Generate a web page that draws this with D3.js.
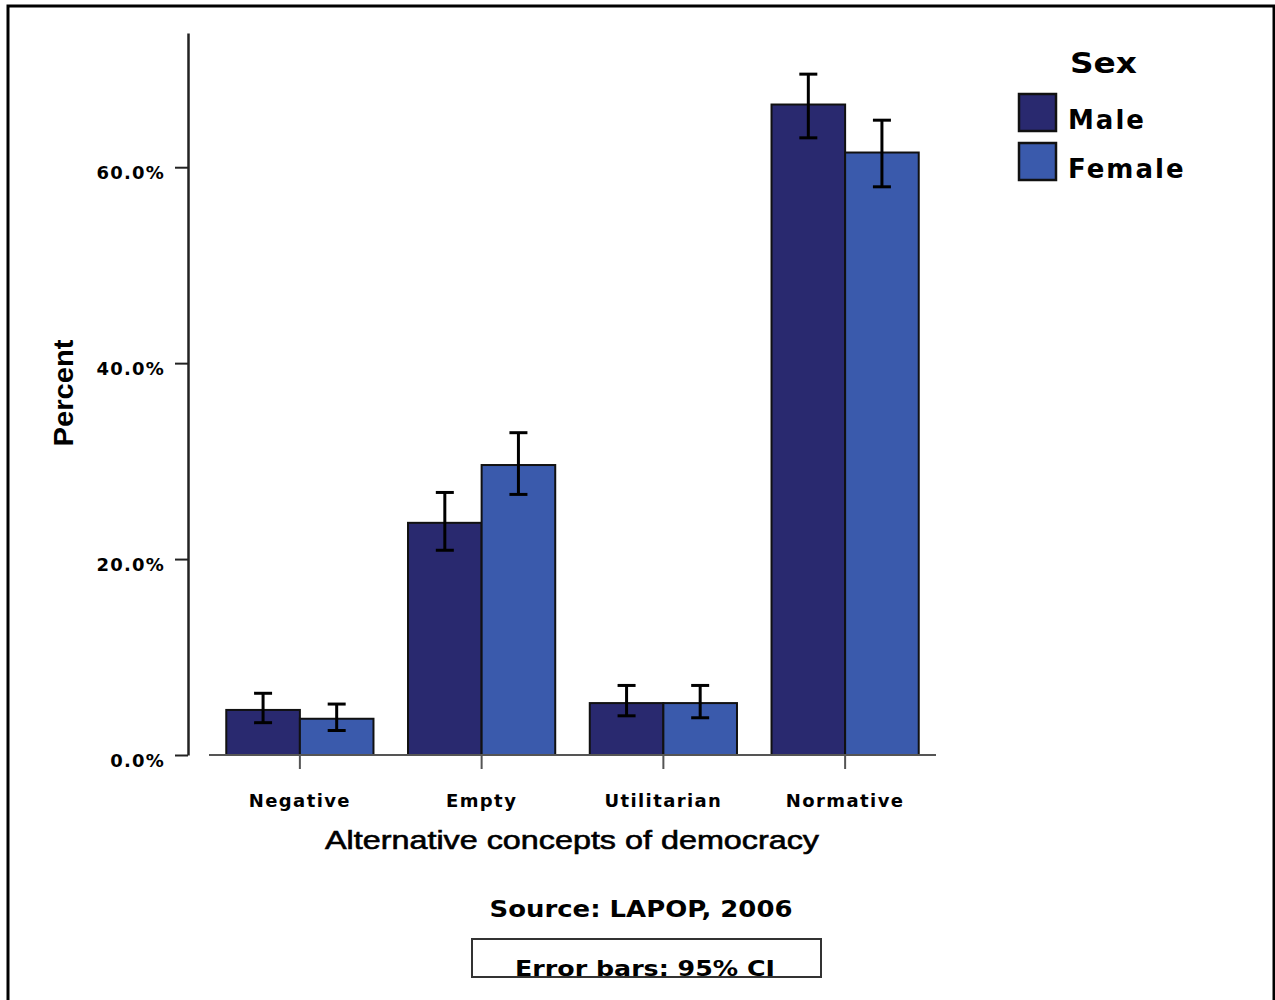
<!DOCTYPE html>
<html>
<head>
<meta charset="utf-8">
<script src="https://cdn.jsdelivr.net/npm/d3@7"></script>
<style>
  html, body { margin: 0; padding: 0; background: #fff; }
  svg { display: block; }
</style>
</head>
<body>
<svg id="chart" width="1275" height="1000"></svg>
<script>
// Alternative concepts of democracy by sex (LAPOP 2006), percent with 95% CI
const categories = ["Negative", "Empty", "Utilitarian", "Normative"];
const groups = ["Male", "Female"];
const maleValues = [4.6, 23.7, 5.3, 66.4];
const femaleValues = [3.7, 29.6, 5.3, 61.5];
const maleLower = [3.3, 20.9, 4.0, 63.0];
const maleUpper = [6.3, 26.8, 7.1, 69.5];
const femaleLower = [2.5, 26.6, 3.8, 58.0];
const femaleUpper = [5.2, 32.9, 7.1, 64.8];
const yTicks = [0, 20, 40, 60];
const colors = ["#29296f", "#3a5aac"];

const svg = d3.select("#chart");
const heavy = "'DejaVu Sans', Verdana, sans-serif";
const arial = "'Liberation Sans', Arial, sans-serif";

// page frame
svg.append("rect")
  .attr("x", 8).attr("y", 6).attr("width", 1266).attr("height", 1010)
  .attr("fill", "none").attr("stroke", "#000").attr("stroke-width", 3);

const y = d3.scaleLinear().domain([0, 73.7]).range([755, 33]);
const x = d3.scaleBand().domain(categories).range([209, 936])
  .paddingInner(0.19).paddingOuter(0.095);
const xs = d3.scaleBand().domain(groups).range([0, x.bandwidth()]);

const rows = categories.map((c, i) => [
  { cat: c, g: "Male", v: maleValues[i], lo: maleLower[i], hi: maleUpper[i] },
  { cat: c, g: "Female", v: femaleValues[i], lo: femaleLower[i], hi: femaleUpper[i] }
]).flat();

// bars
svg.append("g").selectAll("rect").data(rows).join("rect")
  .attr("x", d => x(d.cat) + xs(d.g))
  .attr("y", d => y(d.v))
  .attr("width", xs.bandwidth())
  .attr("height", d => y(0) - y(d.v))
  .attr("fill", d => colors[groups.indexOf(d.g)])
  .attr("stroke", "#111").attr("stroke-width", 2);

// x baseline and category ticks
svg.append("line").attr("x1", 209).attr("x2", 936).attr("y1", y(0)).attr("y2", y(0))
  .attr("stroke", "#555").attr("stroke-width", 2);
const xAxis = svg.append("g").attr("transform", `translate(0,${y(0)})`)
  .call(d3.axisBottom(x).tickSize(14).tickSizeOuter(0).tickFormat(""));
xAxis.select(".domain").remove();
xAxis.selectAll(".tick line").attr("stroke", "#555").attr("stroke-width", 2);

// category labels
svg.append("g").selectAll("text").data(categories).join("text")
  .attr("x", d => x(d) + x.bandwidth() / 2)
  .attr("y", 807)
  .attr("text-anchor", "middle")
  .attr("font-family", heavy)
  .attr("font-weight", "bold")
  .attr("font-size", 18)
  .attr("letter-spacing", 1.4)
  .text(d => d);

// y axis
const yAxis = svg.append("g").attr("transform", "translate(188,0)")
  .call(d3.axisLeft(y).tickValues(yTicks).tickSize(13).tickSizeOuter(0)
    .tickFormat(d => d.toFixed(1) + "%"));
yAxis.select(".domain").attr("stroke", "#222").attr("stroke-width", 2.5);
yAxis.selectAll(".tick line").attr("stroke", "#222").attr("stroke-width", 2);
yAxis.selectAll(".tick text")
  .attr("x", -23)
  .attr("dy", "0.62em")
  .attr("font-family", heavy)
  .attr("font-weight", "bold")
  .attr("font-size", 18)
  .attr("letter-spacing", 1.2)
  .attr("fill", "#000");

// error bars
const eb = svg.append("g").attr("stroke", "#000").attr("stroke-width", 3);
rows.forEach(d => {
  const cx = x(d.cat) + xs(d.g) + xs.bandwidth() / 2;
  eb.append("line").attr("x1", cx).attr("x2", cx).attr("y1", y(d.lo)).attr("y2", y(d.hi));
  eb.append("line").attr("x1", cx - 9).attr("x2", cx + 9).attr("y1", y(d.hi)).attr("y2", y(d.hi));
  eb.append("line").attr("x1", cx - 9).attr("x2", cx + 9).attr("y1", y(d.lo)).attr("y2", y(d.lo));
});

// axis titles
svg.append("text")
  .attr("x", 572).attr("y", 849)
  .attr("text-anchor", "middle")
  .attr("font-family", arial)
  .attr("font-size", 26)
  .attr("stroke", "#000").attr("stroke-width", 0.6)
  .attr("textLength", 494).attr("lengthAdjust", "spacingAndGlyphs")
  .text("Alternative concepts of democracy");

svg.append("text")
  .attr("transform", "translate(73,393) rotate(-90)")
  .attr("text-anchor", "middle")
  .attr("font-family", arial)
  .attr("font-weight", "bold")
  .attr("font-size", 28)
  .attr("textLength", 107).attr("lengthAdjust", "spacingAndGlyphs")
  .text("Percent");

// legend
svg.append("text")
  .attr("x", 1070).attr("y", 73)
  .attr("font-family", heavy)
  .attr("font-weight", "bold")
  .attr("font-size", 28)
  .attr("textLength", 67).attr("lengthAdjust", "spacingAndGlyphs")
  .text("Sex");
const lg = svg.append("g").selectAll("g").data(groups).join("g")
  .attr("transform", (d, i) => `translate(1019,${94 + i * 49})`);
lg.append("rect").attr("width", 37).attr("height", 37)
  .attr("fill", (d, i) => colors[i]).attr("stroke", "#111").attr("stroke-width", 2.5);
lg.append("text")
  .attr("x", 49).attr("y", 35)
  .attr("font-family", heavy)
  .attr("font-weight", "bold")
  .attr("font-size", 26)
  .attr("letter-spacing", 2)
  .text(d => d);

// source note and error bar caption
svg.append("text")
  .attr("x", 641).attr("y", 917)
  .attr("text-anchor", "middle")
  .attr("font-family", heavy)
  .attr("font-weight", "bold")
  .attr("font-size", 23)
  .attr("textLength", 303).attr("lengthAdjust", "spacingAndGlyphs")
  .text("Source: LAPOP, 2006");

svg.append("text")
  .attr("x", 645).attr("y", 976)
  .attr("text-anchor", "middle")
  .attr("font-family", heavy)
  .attr("font-weight", "bold")
  .attr("font-size", 22)
  .attr("textLength", 260).attr("lengthAdjust", "spacingAndGlyphs")
  .text("Error bars: 95% CI");
svg.append("rect")
  .attr("x", 472).attr("y", 939).attr("width", 349).attr("height", 38)
  .attr("fill", "none").attr("stroke", "#333").attr("stroke-width", 2);
</script>
</body>
</html>
